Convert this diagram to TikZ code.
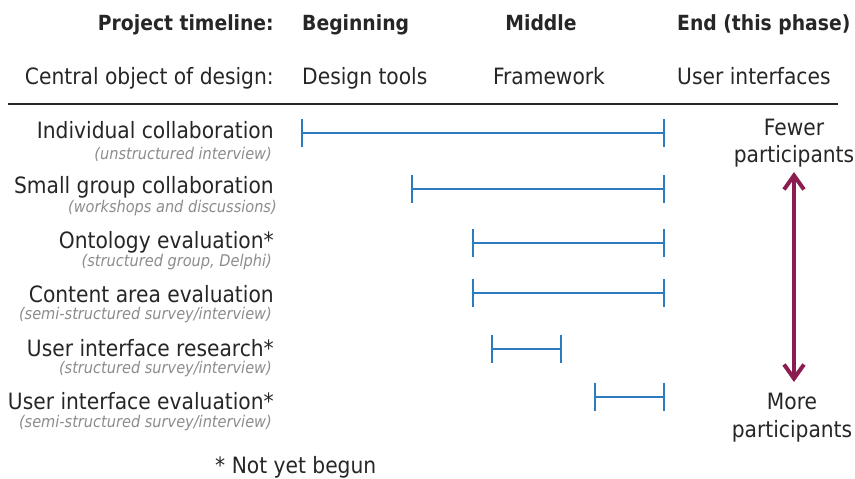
\documentclass[tikz,border=0pt]{standalone}
\usepackage{fontspec}
\setmainfont{DejaVu Sans Condensed}
\usepackage{tikz}
\definecolor{spanblue}{HTML}{2B7BC0}
\definecolor{plum}{HTML}{8C1D50}
\definecolor{subgray}{HTML}{8C8C8C}
\definecolor{inkgray}{HTML}{262626}
\usetikzlibrary{positioning, arrows.meta}
\tikzstyle{twoway} = [line width=3.4pt,{Straight Barb[length=12pt,width=17pt]}-{Straight Barb[length=12pt,width=17pt]}]

\begin{document}
\begin{tikzpicture}[x=0.03cm, y=-0.03cm]
                \tikzstyle{every node}=[inner sep=0pt, text=inkgray, font=\fontsize{19.2}{21}\selectfont]
                \tikzstyle{head} = [font=\fontsize{17.8}{20}\selectfont\bfseries]
                \tikzstyle{task} = [anchor=base east]
                \tikzstyle{method} = [anchor=base east, text=subgray, font=\fontsize{13.8}{16}\selectfont\itshape]
                \tikzstyle{span} = [draw=spanblue, line width=1.6pt, {Bar[width=0.84cm]}-{Bar[width=0.84cm]}]
                \tikzstyle{side} = [anchor=base]

                \useasboundingbox (0,0) rectangle (855,479);

                % header rows
                \node[head, anchor=base east](tl) at (274,31) {Project timeline:};
                \node[head, anchor=base west](beg) at (302,31) {Beginning};
                \node[head, anchor=base](mid) at (541,31) {Middle};
                \node[head, anchor=base west](fin) at (677,31) {End (this phase)};

                \node[anchor=base east](obj) at (274,85) {Central object of design:};
                \node[anchor=base west](tools) at (302,85) {Design tools};
                \node[anchor=base](frame) at (549,85) {Framework};
                \node[anchor=base west](ui) at (677,85) {User interfaces};

                \draw[inkgray, line width=1.5pt] (8,104) -- (838,104);

                % activities
                \node[task](t1) at (274,139) {Individual collaboration};
                \node[method](m1) at (272,159) {(unstructured interview)};
                \node[task](t2) at (274,194) {Small group collaboration};
                \node[method](m2) at (277,212) {(workshops and discussions)};
                \node[task](t3) at (274,248) {Ontology evaluation*};
                \node[method](m3) at (272,266) {(structured group, Delphi)};
                \node[task](t4) at (274,302) {Content area evaluation};
                \node[method](m4) at (272,319) {(semi-structured survey/interview)};
                \node[task](t5) at (274,356) {User interface research*};
                \node[method](m5) at (272,373) {(structured survey/interview)};
                \node[task](t6) at (274,409) {User interface evaluation*};
                \node[method](m6) at (272,427) {(semi-structured survey/interview)};

                % time spans
                \coordinate (s1) at (300.7,133);
                \coordinate (e1) at (665.3,133);
                \coordinate (s2) at (410.7,189);
                \coordinate (e2) at (665.3,189);
                \coordinate (s3) at (472,243.3);
                \coordinate (e3) at (665.3,243.3);
                \coordinate (s4) at (472,293.3);
                \coordinate (e4) at (665.3,293.3);
                \coordinate (s5) at (490.7,348.7);
                \coordinate (e5) at (562,348.7);
                \coordinate (s6) at (594.3,396.7);
                \coordinate (e6) at (665.3,396.7);
                \draw[span] (s1) -- (e1);
                \draw[span] (s2) -- (e2);
                \draw[span] (s3) -- (e3);
                \draw[span] (s4) -- (e4);
                \draw[span] (s5) -- (e5);
                \draw[span] (s6) -- (e6);

                % participants
                \node[side](few) at (794,135) {Fewer};
                \node[side](fewp) at (794,163) {participants};
                \node[side](more) at (792,409) {More};
                \node[side](morep) at (792,437) {participants};
                \coordinate (up) at (794,172);
                \coordinate (down) at (794,382);
                \draw[twoway, draw=plum] (up) -- (down);

                \node[anchor=base west](note) at (215,473) {* Not yet begun};
        \end{tikzpicture}
\end{document}
